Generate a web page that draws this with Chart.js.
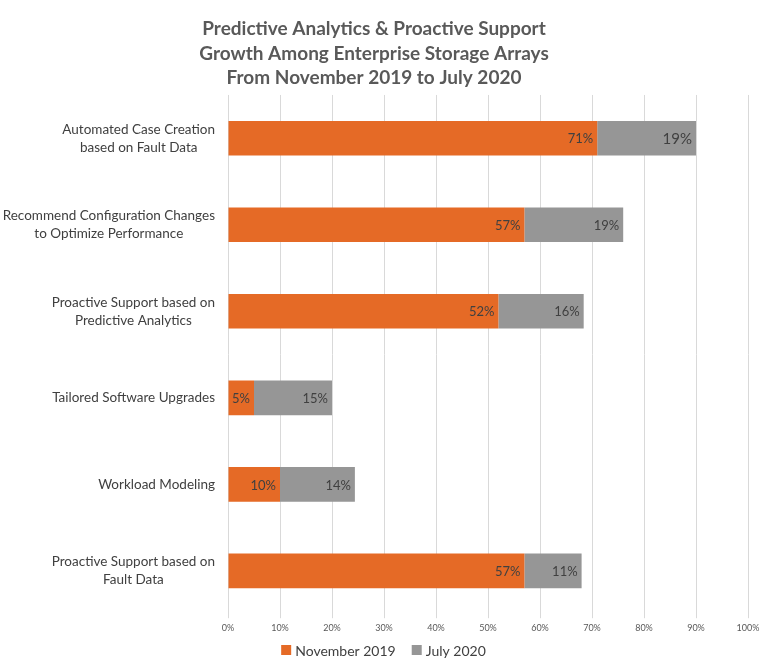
<!DOCTYPE html>
<html>
<head>
<meta charset="utf-8">
<script src="https://cdn.jsdelivr.net/npm/chart.js@4/dist/chart.umd.min.js"></script>
<style>
	html, body { margin: 0; padding: 0; background: #fff; }
	#wrap { width: 767px; height: 663px; }
</style>
</head>
<body>
<div id="wrap"><canvas id="mycanvas"></canvas></div>
<script>
var categories = [
	["Automated Case Creation", "based on Fault Data"],
	["Recommend Configuration Changes", "to Optimize Performance"],
	["Proactive Support based on", "Predictive Analytics"],
	["Tailored Software Upgrades"],
	["Workload Modeling"],
	["Proactive Support based on", "Fault Data"]
];
var nov2019 = [71, 57, 52, 5, 10, 57];
var jul2020 = [19, 19, 16.4, 15, 14.4, 11];
var xTicks = [0, 10, 20, 30, 40, 50, 60, 70, 80, 90, 100];

var FONT = "Lato, 'Open Sans', sans-serif";

// labels inside the end of each segment
var barLabels = {
	id: 'barLabels',
	afterDatasetsDraw: function(chart) {
		var ctx = chart.ctx;
		ctx.save();
		ctx.fillStyle = "#404040";
		ctx.textAlign = "right";
		ctx.textBaseline = "middle";
		chart.data.datasets.forEach(function(ds, di) {
			var meta = chart.getDatasetMeta(di);
			meta.data.forEach(function(bar, i) {
				var big = (di == 1 && i == 0);
				ctx.font = (big ? "15px " : "13px ") + FONT;
				ctx.fillText(Math.round(ds.data[i]) + "%", bar.x - 4, bar.y + 1);
			});
		});
		ctx.restore();
	}
};

// category labels: block right aligned, lines centered in block
var catLabels = {
	id: 'catLabels',
	afterDraw: function(chart) {
		var ctx = chart.ctx;
		var yScale = chart.scales.y;
		ctx.save();
		ctx.font = "13.5px " + FONT;
		ctx.fillStyle = "#404040";
		ctx.textAlign = "center";
		ctx.textBaseline = "middle";
		categories.forEach(function(lines, i) {
			var y = yScale.getPixelForTick(i);
			var w = 0;
			lines.forEach(function(l) { w = Math.max(w, ctx.measureText(l).width); });
			var cx = 215 - w / 2;
			var lh = 18;
			var y0 = y - (lines.length - 1) * lh / 2;
			lines.forEach(function(l, k) { ctx.fillText(l, cx, y0 + k * lh); });
		});
		ctx.restore();
	}
};

// legend at the bottom, centred on the canvas
var bottomLegend = {
	id: 'bottomLegend',
	afterDraw: function(chart) {
		var ctx = chart.ctx;
		var ds = chart.data.datasets;
		ctx.save();
		ctx.font = "14px " + FONT;
		ctx.textBaseline = "middle";
		ctx.textAlign = "left";
		var box = 10, gap = 4, space = 16;
		var total = 0;
		ds.forEach(function(d, i) {
			total += box + gap + ctx.measureText(d.label).width + (i > 0 ? space : 0);
		});
		var x = chart.width / 2 - total / 2;
		var y = 650;
		ds.forEach(function(d, i) {
			ctx.fillStyle = d.backgroundColor;
			ctx.fillRect(x, y - box / 2, box, box);
			ctx.fillStyle = "#404040";
			ctx.fillText(d.label, x + box + gap, y + 1);
			x += box + gap + ctx.measureText(d.label).width + space;
		});
		ctx.restore();
	}
};

var chartdata = {
	labels: categories,
	datasets: [
		{
			label: "November 2019",
			backgroundColor: "rgb(229, 106, 38)",
			data: nov2019,
			barPercentage: 0.8,
			categoryPercentage: 0.5
		},
		{
			label: "July 2020",
			backgroundColor: "rgb(150, 150, 150)",
			data: jul2020,
			barPercentage: 0.8,
			categoryPercentage: 0.5
		}
	]
};

var ctx = document.getElementById("mycanvas");

var BarGraph = new Chart(ctx, {
	type: 'bar',
	data: chartdata,
	plugins: [barLabels, catLabels, bottomLegend],
	options: {
		indexAxis: 'y',
		responsive: true,
		maintainAspectRatio: false,
		animation: false,
		layout: { padding: { left: 0, right: 19, top: 4, bottom: 26 } },
		scales: {
			x: {
				stacked: true,
				min: 0,
				max: 100,
				afterBuildTicks: function(scale) {
					scale.ticks = xTicks.map(function(v) { return { value: v }; });
				},
				border: { display: false },
				grid: { color: "#d9d9d9", tickLength: 4, drawTicks: true },
				ticks: {
					color: "#595959",
					font: { size: 9, family: FONT },
					padding: 4,
					maxRotation: 0,
					callback: function(v) { return v + "%"; }
				}
			},
			y: {
				stacked: true,
				border: { display: false },
				grid: { display: false },
				ticks: { display: false },
				afterFit: function(scale) { scale.width = 228; }
			}
		},
		plugins: {
			title: {
				display: true,
				text: [
					"Predictive Analytics & Proactive Support",
					"Growth Among Enterprise Storage Arrays",
					"From November 2019 to July 2020"
				],
				color: "#595959",
				font: { size: 19, weight: 'bold', family: FONT, lineHeight: 1.28 },
				padding: { top: 13, bottom: 5 }
			},
			legend: { display: false },
			tooltip: { enabled: false }
		}
	}
});
</script>
</body>
</html>
